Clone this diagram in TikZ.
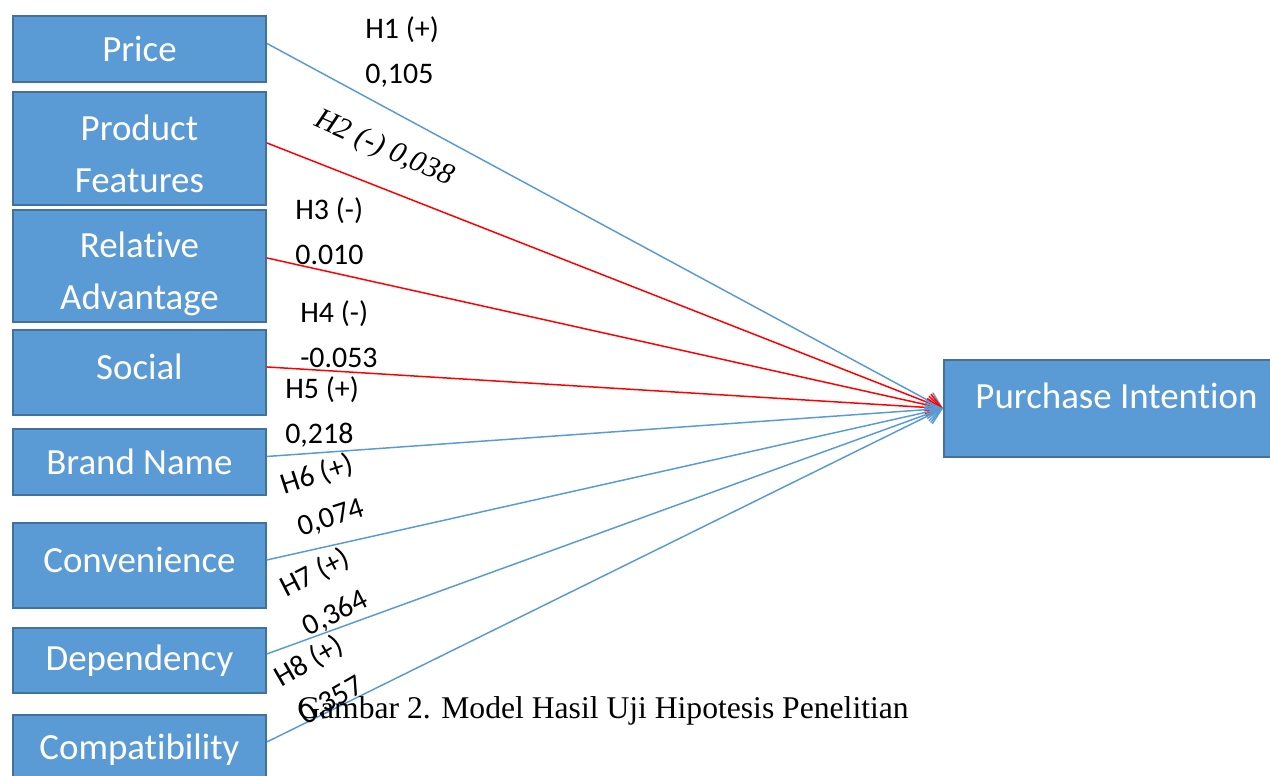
\documentclass[tikz,border=0pt]{standalone}
\usepackage{fontspec}
\setmainfont{Carlito}[Ligatures=NoCommon]
\newfontfamily\capfont{Liberation Serif}
\usepackage{xcolor}
\usetikzlibrary{arrows.meta}
\definecolor{boxblue}{RGB}{91,155,213}
\definecolor{boxedge}{RGB}{65,113,156}
\definecolor{posline}{RGB}{91,155,213}
\definecolor{negline}{RGB}{255,0,0}

\begin{document}
\begin{tikzpicture}[x=0.02cm,y=-0.02cm,
    factor/.style={draw=boxedge,line width=1.1pt,fill=boxblue,text=white,
      font=\fontsize{21}{29.5}\selectfont,align=center,inner sep=0pt,
      minimum width=5.06cm,anchor=north west},
    hyp/.style={font=\fontsize{17}{25.5}\selectfont,align=left,anchor=west,inner sep=0pt},
    hyprot/.style={font=\fontsize{17}{25.5}\selectfont,align=center,inner sep=0pt},
    posedge/.style={draw=posline,line width=0.85pt},
    negedge/.style={draw=negline,line width=0.85pt}]
  \useasboundingbox (0,0) rectangle (1270,776);

  \node[factor,minimum height=1.32cm] (price) at (12,15) {Price};
  \node[factor,minimum height=2.26cm,text height=1.76cm] (feat) at (12,91) {Product\\Features};
  \node[factor,minimum height=2.24cm,text height=1.88cm] (adv) at (12,209) {Relative\\Advantage};
  \node[factor,minimum height=1.7cm,text depth=0.24cm] (social) at (12,329) {Social};
  \node[factor,minimum height=1.32cm] (brand) at (12,428) {Brand Name};
  \node[factor,minimum height=1.7cm,text depth=0.24cm] (conv) at (12,522) {Convenience};
  \node[factor,minimum height=1.3cm] (dep) at (12,627) {Dependency};
  \node[factor,minimum height=1.4cm] (comp) at (12,714) {Compatibility};
  \node[factor,minimum width=6.9cm,minimum height=1.94cm,text depth=0.52cm] (pi) at (943,359) {Purchase Intention};

  \path[-{Straight Barb[length=0.3cm,width=0.36cm]}]
    ([yshift=.11cm]price.east)  edge[posedge] (pi.west)
    ([yshift=.11cm]feat.east)   edge[negedge] (pi.west)
    ([yshift=.16cm]adv.east)    edge[negedge] (pi.west)
    ([yshift=.11cm]social.east) edge[negedge] (pi.west)
    ([yshift=.11cm]brand.east)  edge[posedge] (pi.west)
    ([yshift=.11cm]conv.east)   edge[posedge] (pi.west)
    ([yshift=.13cm]dep.east)    edge[posedge] (pi.west)
    ([yshift=.16cm]comp.east)   edge[posedge] (pi.west);

  \node[hyp] (h1) at (365,52) {H1 (+)\\0,105};
  \node[font=\capfont\itshape\fontsize{17}{20}\selectfont,inner sep=0pt,rotate=-24] (h2) at (384,149) {H2 (-) 0,038};
  \node[hyp] (h3) at (295,231) {H3 (-)\\0.010};
  \node[hyp] (h4) at (300,334) {H4 (-)\\-0.053};
  \node[hyp] (h5) at (285,412) {H5 (+)\\0,218};
  \node[hyprot,rotate=18] (h6) at (324,496) {H6 (+)\\0,074};
  \node[hyprot,rotate=27] (h7) at (325,593) {H7 (+)\\0,364};
  \node[hyprot,rotate=30] (h8) at (320,681) {H8 (+)\\0,357};

  \node[font=\capfont\fontsize{18}{20}\selectfont,anchor=base west,inner sep=0pt] (caption) at (297,718) {Gambar 2. Model Hasil Uji Hipotesis Penelitian};
\end{tikzpicture}
\end{document}
